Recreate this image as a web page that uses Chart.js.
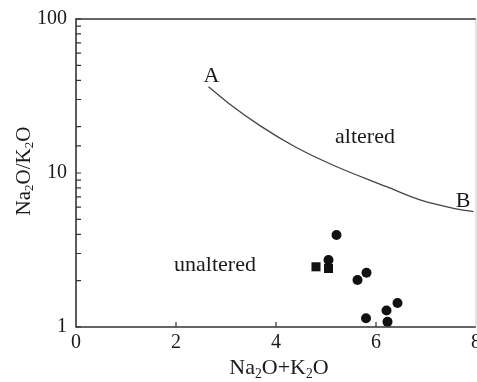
<!DOCTYPE html>
<html>
<head>
<meta charset="utf-8">
<script src="https://cdn.jsdelivr.net/npm/chart.js@4"></script>
<style>
  body { margin: 0; background: #fff; }
  canvas { display: block; }
</style>
</head>
<body>
<canvas id="chart" width="477" height="382"></canvas>
<script>
// A-B boundary line
let curveX = [2.65, 3.05, 3.71, 4.38, 5.18, 6.21, 6.88, 7.55, 7.95]
let curveY = [36.3, 28.4, 20.0, 14.8, 11.1, 8.15, 6.68, 5.90, 5.61]

// samples (circles)
let circleX = [5.21, 5.05, 5.63, 5.81, 6.43, 6.21, 5.80, 6.23]
let circleY = [3.96, 2.72, 2.02, 2.25, 1.43, 1.28, 1.14, 1.08]

// samples (squares)
let squareX = [4.80, 5.05]
let squareY = [2.46, 2.40]

let xTicks = [0, 2, 4, 6, 8]
let yLabels = [1, 10, 100]

// text labels inside the plot
let notes = [
  { text: 'A', x: 2.71, y: 42.2 },
  { text: 'B', x: 7.74, y: 6.51 },
  { text: 'altered', x: 5.78, y: 17.2 },
  { text: 'unaltered', x: 2.78, y: 2.53 }
]

const serif = '"Liberation Serif", "Times New Roman", serif'
const ink = '#1a1a1a'

function toPts(xs, ys) {
  let out = []
  for (let i = 0; i < xs.length; i++) out.push({ x: xs[i], y: ys[i] })
  return out
}

// draws "Na2O" style text with the digits as subscripts
function subText(ctx, str, x, y, size) {
  let parts = []
  for (let i = 0; i < str.length; i++) {
    let sub = /[0-9]/.test(str[i])
    if (parts.length && parts[parts.length - 1].sub == sub) parts[parts.length - 1].t += str[i]
    else parts.push({ t: str[i], sub: sub })
  }
  let width = 0
  for (let p of parts) {
    ctx.font = (p.sub ? size * 0.62 : size) + 'px ' + serif
    p.w = ctx.measureText(p.t).width
    width += p.w
  }
  let cx = x - width / 2
  ctx.textAlign = 'left'
  ctx.textBaseline = 'middle'
  for (let p of parts) {
    ctx.font = (p.sub ? size * 0.62 : size) + 'px ' + serif
    ctx.fillText(p.t, cx, p.sub ? y + size * 0.28 : y)
    cx += p.w
  }
}

let frame = {
  id: 'frame',
  afterDraw(chart) {
    let ctx = chart.ctx
    let a = chart.chartArea
    let xs = chart.scales.x, ys = chart.scales.y
    ctx.save()
    // box
    ctx.lineWidth = 1.6
    ctx.strokeStyle = '#333'
    ctx.beginPath()
    ctx.moveTo(a.right, a.top); ctx.lineTo(a.left, a.top)
    ctx.lineTo(a.left, a.bottom); ctx.lineTo(a.right, a.bottom)
    ctx.stroke()
    ctx.strokeStyle = '#c8c8c8'
    ctx.lineWidth = 1
    ctx.beginPath()
    ctx.moveTo(a.right, a.top); ctx.lineTo(a.right, a.bottom)
    ctx.stroke()
    // inward ticks
    ctx.strokeStyle = '#333'
    ctx.lineWidth = 1.2
    ctx.beginPath()
    for (let t of ys.ticks) {
      let py = ys.getPixelForValue(t.value)
      ctx.moveTo(a.left, py); ctx.lineTo(a.left + 5, py)
    }
    for (let t of xs.ticks) {
      if (t.value <= xs.min || t.value >= xs.max) continue
      let px = xs.getPixelForValue(t.value)
      ctx.moveTo(px, a.bottom); ctx.lineTo(px, a.bottom - 5)
    }
    ctx.stroke()
    // notes
    ctx.fillStyle = ink
    ctx.font = '22px ' + serif
    ctx.textAlign = 'center'
    ctx.textBaseline = 'middle'
    for (let n of notes) ctx.fillText(n.text, xs.getPixelForValue(n.x), ys.getPixelForValue(n.y))
    // axis titles
    subText(ctx, 'Na2O+K2O', 279, 368, 22)
    ctx.translate(24, 171)
    ctx.rotate(-Math.PI / 2)
    subText(ctx, 'Na2O/K2O', 0, 0, 21)
    ctx.restore()
  }
}

new Chart(document.getElementById('chart').getContext('2d'), {
  type: 'scatter',
  data: {
    datasets: [
      {
        data: toPts(curveX, curveY),
        showLine: true,
        borderColor: '#444',
        borderWidth: 1.3,
        pointRadius: 0,
        cubicInterpolationMode: 'monotone',
        fill: false
      },
      {
        data: toPts(circleX, circleY),
        pointStyle: 'circle',
        pointRadius: 5,
        backgroundColor: '#111',
        borderColor: '#111',
        borderWidth: 0
      },
      {
        data: toPts(squareX, squareY),
        pointStyle: 'rect',
        pointRadius: 6.4,
        backgroundColor: '#111',
        borderColor: '#111',
        borderWidth: 0
      }
    ]
  },
  options: {
    responsive: false,
    animation: false,
    layout: { autoPadding: false, padding: { top: 19, right: 1, left: 0, bottom: 0 } },
    plugins: { legend: { display: false }, tooltip: { enabled: false } },
    scales: {
      x: {
        type: 'linear',
        min: 0, max: 8,
        grid: { display: false, drawTicks: false },
        border: { display: false },
        afterBuildTicks: s => { s.ticks = xTicks.map(v => ({ value: v })) },
        ticks: { color: ink, padding: 4, maxRotation: 0, font: { family: serif, size: 20 } },
        afterFit: s => { s.height = 55; s.paddingLeft = 0; s.paddingRight = 0 }
      },
      y: {
        type: 'logarithmic',
        min: 1, max: 100,
        grid: { display: false, drawTicks: false },
        border: { display: false },
        ticks: {
          color: ink, padding: 9, autoSkip: false,
          font: { family: serif, size: 20 },
          callback: v => yLabels.includes(v) ? String(v) : ''
        },
        afterFit: s => { s.width = 76; s.paddingTop = 0; s.paddingBottom = 0 }
      }
    }
  },
  plugins: [frame]
})
</script>
</body>
</html>
